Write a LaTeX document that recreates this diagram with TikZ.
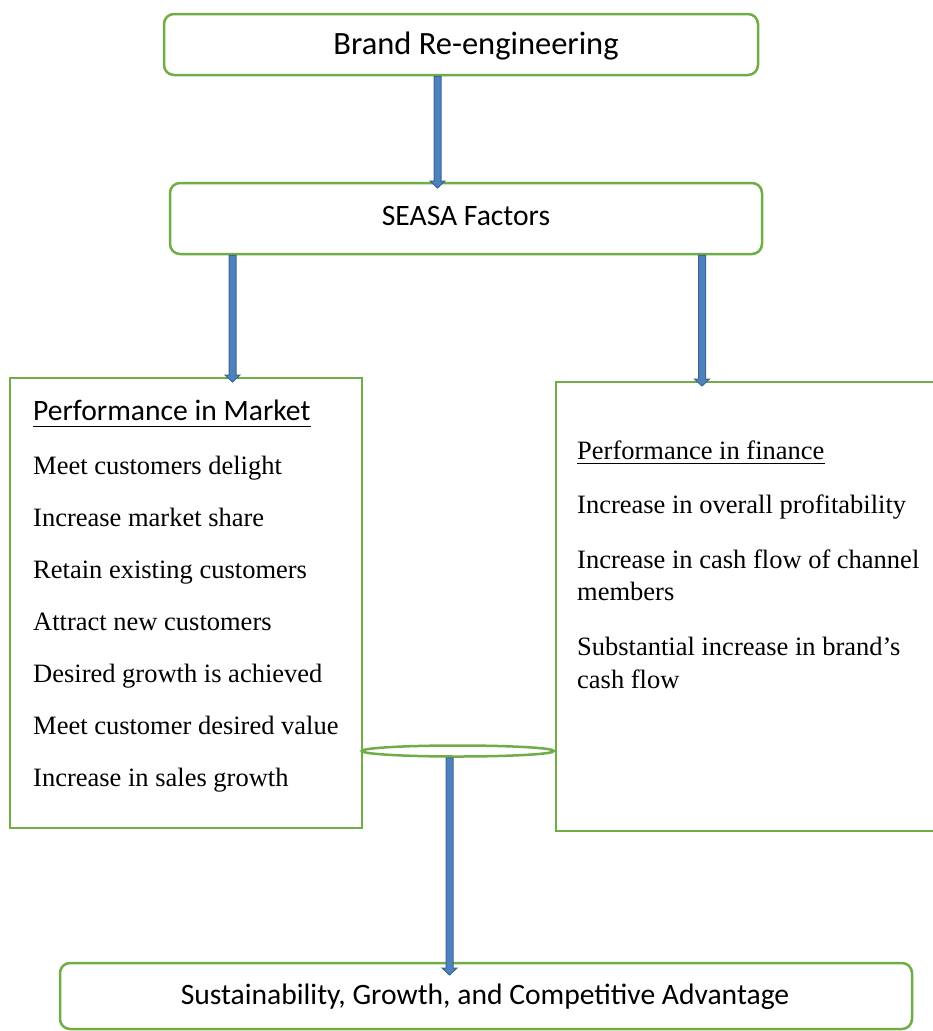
\documentclass[tikz,border=0pt]{standalone}
\usepackage{fontspec}
\setmainfont{Liberation Serif}
\newfontfamily\calib{Carlito}
\usetikzlibrary{calc,shapes.geometric}
\definecolor{boxgreen}{HTML}{70AD47}
\definecolor{arrfill}{HTML}{4F81BD}
\definecolor{arrline}{HTML}{3A6596}
\newcommand\blockarr[2]{\path[barrow] ($(#1)+(-3.5,0)$) -- ($(#2)+(-3.5,-7)$) -- ($(#2)+(-7.5,-7)$) -- (#2) -- ($(#2)+(7.5,-7)$) -- ($(#2)+(3.5,-7)$) -- ($(#1)+(3.5,0)$) -- cycle;}
\begin{document}
\begin{tikzpicture}[x=1pt,y=-1pt,
 gbox/.style={draw=boxgreen, line width=2.5pt, rounded corners=10pt, fill=white, inner sep=0pt},
 sqbox/.style={draw=boxgreen, line width=2.5pt, fill=white, inner sep=0pt},
 sans/.style={font=\calib\fontsize{29.6}{35}\selectfont, inner sep=0pt},
 serif/.style={font=\fontsize{26.5}{30}\selectfont, anchor=base west, inner sep=0pt},
 ulabel/.style={anchor=base west, inner sep=0pt},
 barrow/.style={fill=arrfill, draw=arrline, line width=1pt, line join=miter}
]
\useasboundingbox (0,0) rectangle (933,1031);
\clip (0,0) rectangle (933,1031);
\fill[white] (0,0) rectangle (933,1031);

% boxes
\node[gbox, minimum width=594pt, minimum height=61pt] (brand) at (461,44.5) {};
\node[gbox, minimum width=592pt, minimum height=71pt] (seasa) at (466,218.5) {};
\node[sqbox, minimum width=352pt, minimum height=450pt] (mkt) at (186,603) {};
\node[sqbox, minimum width=390pt, minimum height=449pt] (fin) at (751,606.5) {};
\node[gbox, minimum width=852pt, minimum height=66pt] (sust) at (486,996) {};
\node[draw=boxgreen, line width=2.5pt, fill=white, ellipse, minimum width=192pt, minimum height=11pt, inner sep=0pt] (ell) at (458,751) {};

% box texts
\node[sans, font=\calib\fontsize{32.5}{38}\selectfont] (brandt) at (476,46) {Brand Re-engineering};
\node[sans] (seasat) at (466,216) {SEASA Factors};
\node[sans] (sustt) at (485,997) {Sustainability, Growth, and Competitive Advantage};

\node[sans, ulabel] (mktt) at (33,420) {Performance in Market};
\draw[line width=1.6pt] ($(mktt.base west)+(0,6.5)$) -- ($(mktt.base east)+(0,6.5)$);
\node[serif] (m1) at (33,474) {Meet customers delight};
\node[serif] (m2) at (33,526) {Increase market share};
\node[serif] (m3) at (33,578) {Retain existing customers};
\node[serif] (m4) at (33,630) {Attract new customers};
\node[serif] (m5) at (33,682) {Desired growth is achieved};
\node[serif] (m6) at (33,734) {Meet customer desired value};
\node[serif] (m7) at (33,786) {Increase in sales growth};

\node[serif] (fint) at (577,459) {Performance in finance};
\draw[line width=1.3pt] ($(fint.base west)+(0,4.5)$) -- ($(fint.base east)+(0,4.5)$);
\node[serif] (f1) at (577,513) {Increase in overall profitability};
\node[serif] (f2) at (577,568) {Increase in cash flow of channel};
\node[serif] (f3) at (577,600) {members};
\node[serif] (f4) at (577,655) {Substantial increase in brand’s};
\node[serif] (f5) at (577,688) {cash flow};

% arrows
\coordinate (a1s) at (brand.south -| 437.5,0);
\coordinate (a1e) at (437.5,188);
\coordinate (a2s) at (seasa.south -| 232.5,0);
\coordinate (a2e) at (232.5,382);
\coordinate (a3s) at (seasa.south -| 702,0);
\coordinate (a3e) at (702,386);
\coordinate (a4s) at (ell.south -| 449.5,0);
\coordinate (a4e) at (449.5,975);
\blockarr{a1s}{a1e}
\blockarr{a2s}{a2e}
\blockarr{a3s}{a3e}
\blockarr{a4s}{a4e}
\end{tikzpicture}
\end{document}
